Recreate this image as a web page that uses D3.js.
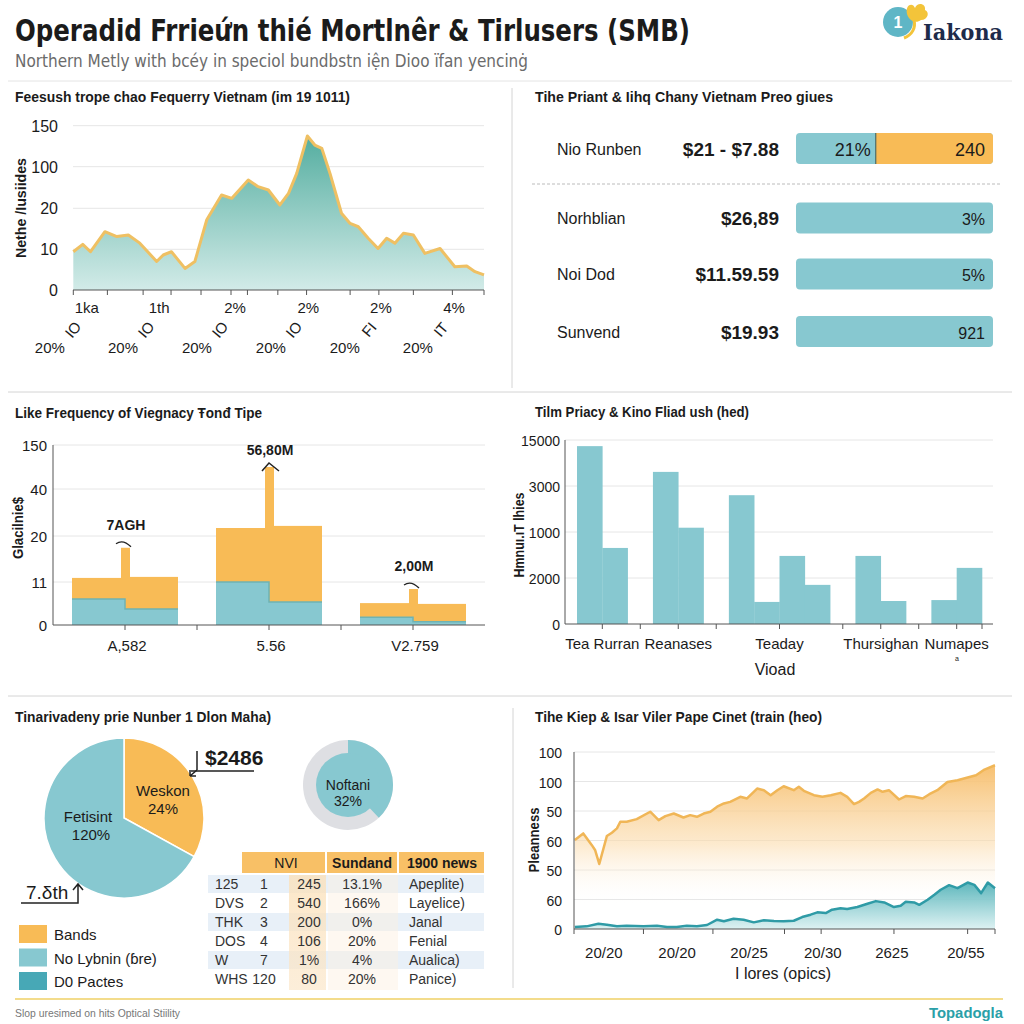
<!DOCTYPE html>
<html><head><meta charset="utf-8">
<script src="https://cdn.jsdelivr.net/npm/d3@7"></script>
<style>
body{margin:0;background:#fff}
svg{display:block}
text{font-family:"Liberation Sans","DejaVu Sans",Arial,sans-serif;fill:#1b1b1b}
</style></head>
<body><svg id="c" width="1024" height="1024"></svg>
<script>
// ---------- DATA ----------
const titleText = "Operadid Frrieứn thié Mortlnêr & Tirlusers (SMB)";
const subtitleText = "Northern Metly with bcéy in speciol bundbstn iện Dioo ïfan yencinġ";
const footerText = "Slop uresimed on hits Optical Stiility";

// Panel 1: area chart
const p1Title = "Feesush trope chao Fequerry Vietnam (im 19 1011)";
const p1YTitle = "Nethe /Iusiides";
const p1YTicks = [0, 10, 20, 100, 150];
const p1T = [0,2.3,4.2,7.7,10.6,13.4,16.2,20.3,21.9,23.9,27.2,29.6,32.5,36.1,38.6,42.6,45.0,47.5,50.3,52.4,54.4,57.0,58.8,60.5,62.5,65.3,67.4,69.4,71.8,74.2,76.3,78.3,80.4,82.8,85.6,89.3,92.9,95.8,97.8,100];
const p1V = [9.4,11.2,9.4,14.3,13.1,13.5,11.5,7.0,8.6,9.4,5.3,7.0,17.2,45.6,39.2,74.4,61.6,55.2,26.4,48.8,87.2,137.4,126.4,122.4,87.2,18.8,16.3,15.5,12.7,10.2,12.7,11.5,13.9,13.5,9.0,10.2,5.7,5.9,4.5,3.7];
const p1TickT = [0,8.3,17.0,23.8,31.1,38.4,42.4,49.8,56.8,67.4,74.4,82.8,92.3,100];
const p1Row1 = ["1ka","1th","2%","2%","2%","4%"];
const p1Row1T = [3.3,20.9,39.4,57.2,74.9,92.7];
const p1Row2 = ["IO","IO","IO","IO","FI","IT"];
const p1Row2T = [0.9,18.7,36.7,54.7,73.0,90.5];
const p1Row3 = ["20%","20%","20%","20%","20%","20%"];
const p1Row3T = [-5.7,12.1,30.1,48.1,66.1,83.9];

// Panel 2: price rows
const p2Title = "Tihe Priant & Iihq Chany Vietnam Preo giues";
const p2Names = ["Nio Runben","Norhblian","Noi Dod","Sunvend"];
const p2Prices = ["$21 - $7.88","$26,89","$11.59.59","$19.93"];
const p2Blue = [40.5,100,100,100];
const p2Orange = [59.5,0,0,0];
const p2BlueLbl = ["21%","","",""];
const p2EndLbl = ["240","3%","5%","921"];

// Panel 3: stepped stacked bars
const p3Title = "Like Frequency of Viegnacy Ŧonđ Tipe";
const p3YTitle = "Glacilnie$";
const p3Groups = ["A,582","5.56","V2.759"];
const p3YTicks = [0, 11, 20, 40, 150];
const p3TealL = [6.65, 11, 2.0];
const p3TealR = [4.1, 5.9, 0.8];
const p3TotL = [11.8, 23.4, 5.6];
const p3TotR = [12.0, 24.3, 5.4];
const p3Spike = [17.7, 95, 9.2];
const p3SpikeLbl = ["7AGH","56,80M","2,00M"];

// Panel 4: grouped bars
const p4Title = "Tilm Priacy & Kino Fliad ush (hed)";
const p4YTitle = "Hmnuı.ıT lhies";
const p4XTitle = "Vioad";
const p4Cats = ["Tea Rurran","Reanases","Teaday","Thursighan","Numapes"];
const p4Vals = [[14500,6200],[12400,7850],[10500,1800,5550,3190],[5550,1875],[1950,4575]];
const p4TickVals = [0,3750,7500,11250,15000];
const p4TickLbl = ["0","2000","1000","3000","15000"];

// Panel 5: pie, donut, table
const p5Title = "Tinarivadeny prie Nunber 1 Dlon Maha)";
const pieLabels = ["Weskon","Fetisint"];
const piePct = ["24%","120%"];
const pieVals = [33, 67];
const donutVals = [38, 62];
const donutLbl = ["Noftani","32%"];
const legendNames = ["Bands","No Lybnin (ɓre)","D0 Pactes"];
const tableHead = ["NVI","Sundand","1900 news"];
const tableRows = [
  ["125","1","245","13.1%","Apeplite)"],
  ["DVS","2","540","166%","Layelice)"],
  ["THK","3","200","0%","Janal"],
  ["DOS","4","106","20%","Fenial"],
  ["W","7","1%","4%","Aualica)"],
  ["WHS","120","80","20%","Panice)"]
];

// Panel 6: two areas
const p6Title = "Tihe Kiep & Isar Viler Pape Cinet (train (heo)";
const p6YTitle = "Pleanness";
const p6XTitle = "I lores (opics)";
const p6TickVals = [0,20,40,60,80,100,120];
const p6TickLbl = ["0","60","50","60","50","100","100"];
const p6XLbl = ["20/20","20/20","20/25","20/30","2625","20/55"];
const p6XLblT = [7.1,24.5,41.6,59.1,75.5,93.1];
const p6OT = [0.2,2.2,4.2,5.0,6.0,7.8,9.0,10.2,11.0,12.5,14.9,18.1,20.1,21.7,23.7,26.0,27.6,29.2,30.8,32.4,34.0,35.6,37.1,39.5,41.1,43.5,45.1,46.7,48.3,49.8,52.2,53.4,54.6,57.0,59.0,61.0,63.3,64.9,66.5,67.7,68.9,70.5,72.1,73.3,74.8,77.2,78.8,80.8,82.8,84.4,86.3,88.7,91.1,93.5,95.5,97.5,100];
const p6OV = [60.3,64.8,57.0,53.6,44.1,63.0,65.3,68.2,72.7,72.7,74.5,79.5,73.8,76.5,78.3,75.6,77.2,76.1,78.3,79.5,82.9,85.1,86.2,89.6,88.5,95.2,94.1,90.7,94.1,96.8,94.1,96.4,93.7,90.7,89.6,90.7,92.3,89.6,84.7,86.2,88.5,92.3,94.6,93.0,94.1,87.8,90.1,89.6,88.5,91.4,94.1,99.7,100.9,102.7,104.2,108.1,111.0];
const p6TT = [0.2,3.0,5.8,7.8,10.2,12.5,16.5,19.7,22.1,24.4,26.8,29.2,31.6,34.0,35.6,37.9,40.3,42.7,45.1,47.5,49.8,52.2,54.2,56.2,57.8,59.8,61.3,63.3,64.9,67.3,69.7,71.7,73.7,76.0,77.6,78.8,80.8,82.0,84.0,85.6,87.1,89.1,91.1,93.5,95.1,96.7,98.3,100];
const p6TV = [1.35,1.8,3.6,2.9,1.8,2.25,1.8,2.25,1.35,1.35,2.25,1.8,2.7,6.3,5.2,7.0,6.3,4.5,5.9,5.4,5.2,5.6,8.1,9.7,11.3,10.8,13.1,14.0,13.5,14.9,17.1,18.9,18.0,14.9,15.8,18.5,18.0,16.4,19.8,23.2,26.6,29.7,27.7,31.5,29.9,24.3,31.5,27.7];

// ---------- STYLE ----------
const C = {teal:"#87c8d0", orange:"#f8bb56", dark:"#1b1b1b", grid:"#e6e6e6", axis:"#555", divider:"#d4d4d4", dteal:"#47a8b6"};
const svg = d3.select("#c");
svg.append("rect").attr("width",1024).attr("height",1024).attr("fill","#fff");
const defs = svg.append("defs");
function grad(id, y1, y2, stops){
  const g = defs.append("linearGradient").attr("id",id).attr("gradientUnits","userSpaceOnUse")
    .attr("x1",0).attr("x2",0).attr("y1",y1).attr("y2",y2);
  stops.forEach(s=>g.append("stop").attr("offset",s[0]).attr("stop-color",s[1]).attr("stop-opacity",s[2]));
}
function txt(g, x, y, s, o={}){
  const t = g.append("text").attr("x",x).attr("y",y).text(s)
    .attr("font-size",o.size||14).attr("font-weight",o.bold?"bold":"normal")
    .attr("text-anchor",o.anchor||"start");
  if(o.fill) t.style("fill",o.fill);
  if(o.family) t.style("font-family",o.family);
  if(o.len){ t.attr("textLength",o.len).attr("lengthAdjust","spacingAndGlyphs"); }
  if(o.rot!==undefined) t.attr("transform",`rotate(${o.rot},${x},${y})`);
  return t;
}

// ---------- HEADER ----------
txt(svg,15,41,titleText,{size:31,bold:true,len:675,family:"'DejaVu Sans Condensed','DejaVu Sans',sans-serif"});
txt(svg,15,67,subtitleText,{size:18,fill:"#6b6b6b",len:513,family:"'DejaVu Sans Condensed','DejaVu Sans',sans-serif"});
// logo
const logo = svg.append("g");
logo.append("circle").attr("cx",898).attr("cy",22).attr("r",15).attr("fill","#5fb6c6");
logo.append("path").attr("d","M907,14 C905,4 913,2 915,8 C917,2 926,3 925,10 C930,12 928,20 921,20 C916,24 909,21 907,14 Z").attr("fill","#f3c43a");
logo.append("path").attr("d","M914,20 C916,28 912,35 904,38").attr("fill","none").attr("stroke","#f3c43a").attr("stroke-width",3);
txt(logo,898,28,"1",{size:16,bold:true,anchor:"middle",fill:"#fff"});
txt(logo,923,40,"Iakona",{size:22,bold:true,fill:"#1e2b4a",len:80,family:"'DejaVu Serif',serif"});

// dividers
svg.append("line").attr("x1",8).attr("x2",1012).attr("y1",81).attr("y2",81).attr("stroke","#e4e4e4");
svg.append("line").attr("x1",8).attr("x2",1012).attr("y1",392).attr("y2",392).attr("stroke",C.divider);
svg.append("line").attr("x1",8).attr("x2",1012).attr("y1",696).attr("y2",696).attr("stroke",C.divider);
svg.append("line").attr("x1",512).attr("x2",512).attr("y1",88).attr("y2",388).attr("stroke",C.divider);
svg.append("line").attr("x1",513).attr("x2",513).attr("y1",708).attr("y2",988).attr("stroke",C.divider);
svg.append("line").attr("x1",15).attr("x2",1003).attr("y1",999).attr("y2",999).attr("stroke","#f3dc8c").attr("stroke-width",2);
txt(svg,15,1017,footerText,{size:11,fill:"#777",len:165});
txt(svg,1003,1018,"Topadogla",{size:15,bold:true,anchor:"end",fill:"#2aa0a8",len:74});

// ---------- PANEL 1 ----------
{
  const g = svg.append("g");
  txt(g,15,102,p1Title,{size:15,bold:true,len:335});
  const x = d3.scaleLinear().domain([0,100]).range([73.3,484]);
  const y = d3.scaleLinear().domain(p1YTicks).range([290,249.3,208.3,166.7,125.7]);
  p1YTicks.forEach(v=>{
    if(v>0) g.append("line").attr("x1",73).attr("x2",484).attr("y1",y(v)).attr("y2",y(v)).attr("stroke",C.grid);
    txt(g,58,y(v)+6,String(v),{size:16,anchor:"end"});
  });
  grad("g1",130,292,[[0,"#4fab9d",1],[1,"#d4ece9",1]]);
  const area = d3.area().x((d,i)=>x(p1T[i])).y0(y(0)).y1(d=>y(d));
  const line = d3.line().x((d,i)=>x(p1T[i])).y(d=>y(d));
  g.append("path").attr("d",area(p1V)).attr("fill","url(#g1)");
  g.append("path").attr("d",line(p1V)).attr("fill","none").attr("stroke","#efc063").attr("stroke-width",3).attr("stroke-linejoin","round");
  g.append("line").attr("x1",73).attr("x2",484).attr("y1",290).attr("y2",290).attr("stroke",C.axis);
  p1TickT.forEach(t=>g.append("line").attr("x1",x(t)).attr("x2",x(t)).attr("y1",290).attr("y2",295).attr("stroke",C.axis));
  p1Row1.forEach((s,i)=>txt(g,x(p1Row1T[i]),313,s,{size:15,anchor:"middle"}));
  p1Row2.forEach((s,i)=>txt(g,x(p1Row2T[i]),333,s,{size:15,anchor:"middle",rot:-50}));
  p1Row3.forEach((s,i)=>txt(g,x(p1Row3T[i]),353,s,{size:15,anchor:"middle"}));
  txt(g,26,208,p1YTitle,{size:15,bold:true,anchor:"middle",rot:-90,len:100});
}

// ---------- PANEL 2 ----------
{
  const g = svg.append("g");
  txt(g,535,102,p2Title,{size:15,bold:true,len:298});
  const ys = [148.5,218,274,331.5];
  const bx = d3.scaleLinear().domain([0,100]).range([796,993]);
  p2Names.forEach((n,i)=>{
    const cy = ys[i];
    txt(g,557,cy+6,n,{size:16});
    txt(g,779,cy+7,p2Prices[i],{size:19,bold:true,anchor:"end"});
    const h = 31;
    g.append("rect").attr("x",bx(0)).attr("y",cy-h/2).attr("width",bx(100)-bx(0)).attr("height",h).attr("rx",4).attr("fill",C.teal);
    if(p2Orange[i]>0){
      g.append("path").attr("d",`M${bx(p2Blue[i])},${cy-h/2} H${bx(100)-4} a4,4 0 0 1 4,4 V${cy+h/2-4} a4,4 0 0 1 -4,4 H${bx(p2Blue[i])} Z`).attr("fill",C.orange);
      g.append("line").attr("x1",bx(p2Blue[i])).attr("x2",bx(p2Blue[i])).attr("y1",cy-h/2).attr("y2",cy+h/2).attr("stroke","#3a5a5a").attr("stroke-width",1);
    }
    if(p2BlueLbl[i]) txt(g,bx(p2Blue[i])-5,cy+7,p2BlueLbl[i],{size:18,anchor:"end"});
    txt(g,985,cy+7,p2EndLbl[i],{size:p2Orange[i]>0?18:16,anchor:"end"});
  });
  g.append("line").attr("x1",532).attr("x2",1001).attr("y1",184).attr("y2",184).attr("stroke","#bbb").attr("stroke-dasharray","3,2");
}

// ---------- PANEL 3 ----------
{
  const g = svg.append("g");
  txt(g,15,418,p3Title,{size:15,bold:true,len:247});
  const y = d3.scaleLinear().domain(p3YTicks).range([625,582,536,489,445]);
  p3YTicks.forEach(v=>{
    if(v>0) g.append("line").attr("x1",53).attr("x2",485).attr("y1",y(v)).attr("y2",y(v)).attr("stroke",C.grid);
    txt(g,47,y(v)+6,String(v),{size:15,anchor:"end"});
  });
  const x = d3.scaleBand().domain(p3Groups).range([53,485]).paddingInner(0.264).paddingOuter(0.132);
  p3Groups.forEach((gname,i)=>{
    const x0 = x(gname), bw = x.bandwidth(), xm = x0+bw/2, x1 = x0+bw;
    g.append("rect").attr("x",x0).attr("y",y(p3TotL[i])).attr("width",xm-x0).attr("height",y(0)-y(p3TotL[i])).attr("fill",C.orange);
    g.append("rect").attr("x",xm).attr("y",y(p3TotR[i])).attr("width",x1-xm).attr("height",y(0)-y(p3TotR[i])).attr("fill",C.orange);
    g.append("rect").attr("x",xm-4).attr("y",y(p3Spike[i])).attr("width",9).attr("height",y(0)-y(p3Spike[i])).attr("fill",C.orange);
    g.append("rect").attr("x",x0).attr("y",y(p3TealL[i])).attr("width",xm-x0).attr("height",y(0)-y(p3TealL[i])).attr("fill",C.teal);
    g.append("rect").attr("x",xm).attr("y",y(p3TealR[i])).attr("width",x1-xm).attr("height",y(0)-y(p3TealR[i])).attr("fill",C.teal);
    g.append("path").attr("d",`M${x0},${y(p3TealL[i])} H${xm} V${y(p3TealR[i])} H${x1}`).attr("fill","none").attr("stroke","#6fb3b3").attr("stroke-width",1.5);
    const ly = y(p3Spike[i]);
    txt(g,xm+1,ly-(i===1?12:18),p3SpikeLbl[i],{size:14,bold:true,anchor:"middle"});
    if(i===1) g.append("path").attr("d",`M${xm-7},${ly+4} L${xm},${ly-4} L${xm+10},${ly+4}`).attr("fill","none").attr("stroke","#222").attr("stroke-width",1.5);
    else g.append("path").attr("d",`M${xm-9},${ly-4} Q${xm-2},${ly-9} ${xm+6},${ly-1}`).attr("fill","none").attr("stroke","#222").attr("stroke-width",1.3);
    txt(g,xm+2,651,gname,{size:15,anchor:"middle"});
  });
  g.append("line").attr("x1",53).attr("x2",53).attr("y1",445).attr("y2",625).attr("stroke",C.axis);
  g.append("line").attr("x1",53).attr("x2",485).attr("y1",625).attr("y2",625).attr("stroke",C.axis);
  const tickPos = [];
  p3Groups.forEach((gname,i)=>{ tickPos.push(x(gname)+x.bandwidth()/2); if(i<2) tickPos.push(x(gname)+x.bandwidth()+ (x.step()-x.bandwidth())/2); });
  tickPos.forEach(p=>g.append("line").attr("x1",p).attr("x2",p).attr("y1",625).attr("y2",630).attr("stroke",C.axis));
  txt(g,23,528,p3YTitle,{size:15,bold:true,anchor:"middle",rot:-90,len:62});
}

// ---------- PANEL 4 ----------
{
  const g = svg.append("g");
  txt(g,535,417,p4Title,{size:15,bold:true,len:214});
  const y = d3.scaleLinear().domain([0,15000]).range([624,440]);
  p4TickVals.forEach((v,i)=>{
    if(v>0) g.append("line").attr("x1",565).attr("x2",993).attr("y1",y(v)).attr("y2",y(v)).attr("stroke",C.grid);
    txt(g,560,y(v)+6,p4TickLbl[i],{size:14,anchor:"end"});
  });
  const bars = []; const centers = []; const gaps = [];
  let s = 0;
  p4Vals.forEach((vals,gi)=>{
    const start = s;
    vals.forEach(v=>{ bars.push({slot:s, v}); s++; });
    centers.push((start+s)/2);
    if(gi<p4Vals.length-1){ gaps.push(s+0.5); s++; }
  });
  const x = d3.scaleLinear().domain([0,s]).range([577,982]);
  bars.forEach(b=>g.append("rect").attr("x",x(b.slot)).attr("y",y(b.v)).attr("width",x(b.slot+1)-x(b.slot)+0.3).attr("height",y(0)-y(b.v)).attr("fill",C.teal));
  g.append("line").attr("x1",565).attr("x2",565).attr("y1",440).attr("y2",624).attr("stroke",C.axis);
  g.append("line").attr("x1",565).attr("x2",993).attr("y1",624).attr("y2",624).attr("stroke",C.axis);
  centers.concat(gaps).concat([s]).forEach(c=>g.append("line").attr("x1",x(c)).attr("x2",x(c)).attr("y1",624).attr("y2",629).attr("stroke",C.axis));
  p4Cats.forEach((c,i)=>txt(g,x(centers[i]),649,c,{size:15,anchor:"middle"}));
  txt(g,775,675,p4XTitle,{size:16,anchor:"middle"});
  txt(g,957,661,"a",{size:7,anchor:"middle"});
  txt(g,524,535,p4YTitle,{size:15,bold:true,anchor:"middle",rot:-90,len:85});
}

// ---------- PANEL 5 ----------
{
  const g = svg.append("g");
  txt(g,15,722,p5Title,{size:15,bold:true,len:256});
  const pieG = g.append("g").attr("transform","translate(124,818)");
  const pie = d3.pie().sort(null)(pieVals);
  const arc = d3.arc().innerRadius(0).outerRadius(80);
  pieG.selectAll("path").data(pie).join("path").attr("d",arc)
    .attr("fill",(d,i)=>i===0?C.orange:C.teal).attr("stroke","#fff").attr("stroke-width",1.5);
  txt(g,163,796,pieLabels[0],{size:15,anchor:"middle"});
  txt(g,163,814,piePct[0],{size:15,anchor:"middle"});
  txt(g,88,822,pieLabels[1],{size:15,anchor:"middle"});
  txt(g,91,840,piePct[1],{size:15,anchor:"middle"});
  txt(g,205,765,"$2486",{size:21,bold:true});
  g.append("path").attr("d","M197,751 V770 M191,771 H254").attr("stroke","#222").attr("fill","none").attr("stroke-width",1.5);
  g.append("path").attr("d","M197,770 L190,776 M190,776 L190,770 M190,776 L196,776").attr("stroke","#222").attr("fill","none").attr("stroke-width",1.5);
  txt(g,26,899,"7.δth",{size:19});
  g.append("path").attr("d","M21,903 H78 V884 M73,890 L78,884 L83,890").attr("stroke","#222").attr("fill","none").attr("stroke-width",1.5);
  const dG = g.append("g").attr("transform","translate(348,785)");
  dG.append("circle").attr("r",45).attr("fill","#dedfe3");
  const dp = d3.pie().sort(null)(donutVals);
  dG.append("path").attr("d",d3.arc().innerRadius(0).outerRadius(45)(dp[0])).attr("fill",C.teal);
  dG.append("circle").attr("r",32).attr("fill",C.teal);
  txt(g,348,790,donutLbl[0],{size:14,anchor:"middle"});
  txt(g,348,806,donutLbl[1],{size:14,anchor:"middle"});
  const lc = [C.orange, C.teal, C.dteal];
  legendNames.forEach((n,i)=>{
    g.append("rect").attr("x",19).attr("y",925+i*23.5).attr("width",28).attr("height",18).attr("fill",lc[i]);
    txt(g,54,940+i*23.5,n,{size:15});
  });
  const tg = g.append("g");
  tg.append("rect").attr("x",242).attr("y",852).attr("width",242).attr("height",21).attr("fill","#f8c066");
  [326,398].forEach(xx=>tg.append("line").attr("x1",xx).attr("x2",xx).attr("y1",852).attr("y2",873).attr("stroke","#fff").attr("stroke-width",2));
  txt(tg,286,868,tableHead[0],{size:14,anchor:"middle"});
  txt(tg,362,868,tableHead[1],{size:14,bold:true,anchor:"middle"});
  txt(tg,442,868,tableHead[2],{size:14,bold:true,anchor:"middle"});
  tableRows.forEach((r,i)=>{
    const ry = 875+i*19;
    if(i%2===0) tg.append("rect").attr("x",208).attr("y",ry).attr("width",276).attr("height",18).attr("fill","#e8f0f8");
  });
  grad("gcol",875,990,[[0,"#fbe0b8",0.9],[1,"#fbe6c8",0.8]]);
  tg.append("rect").attr("x",289).attr("y",875).attr("width",37).attr("height",115).attr("fill","url(#gcol)").attr("opacity",0.85);
  tg.append("rect").attr("x",328).attr("y",875).attr("width",70).attr("height",115).attr("fill","#fdf0e0").attr("opacity",0.45);
  tableRows.forEach((r,i)=>{
    const by = 889+i*19;
    txt(tg,215,by,r[0],{size:14,fill:"#333"});
    txt(tg,264,by,r[1],{size:14,anchor:"middle",fill:"#333"});
    txt(tg,309,by,r[2],{size:14,anchor:"middle",fill:"#333"});
    txt(tg,362,by,r[3],{size:14,anchor:"middle",fill:"#333"});
    txt(tg,409,by,r[4],{size:14,fill:"#333"});
  });
}

// ---------- PANEL 6 ----------
{
  const g = svg.append("g");
  txt(g,535,722,p6Title,{size:15,bold:true,len:287});
  const y = d3.scaleLinear().domain([0,120]).range([929,752]);
  const x = d3.scaleLinear().domain([0,100]).range([574,995]);
  p6TickVals.forEach((v,i)=>{
    if(v>0) g.append("line").attr("x1",574).attr("x2",995).attr("y1",y(v)).attr("y2",y(v)).attr("stroke",C.grid);
    txt(g,562,y(v)+6,p6TickLbl[i],{size:14,anchor:"end"});
  });
  grad("go",770,905,[[0,"#f7c070",0.95],[0.55,"#fbdcae",0.6],[1,"#ffffff",0]]);
  grad("gt",880,929,[[0,"#4eb0b6",0.95],[1,"#d9f0f1",0.9]]);
  const aO = d3.area().x((d,i)=>x(p6OT[i])).y0(y(0)).y1(d=>y(d));
  const lO = d3.line().x((d,i)=>x(p6OT[i])).y(d=>y(d));
  g.append("path").attr("d",aO(p6OV)).attr("fill","url(#go)");
  g.append("path").attr("d",lO(p6OV)).attr("fill","none").attr("stroke","#f0b657").attr("stroke-width",2.5).attr("stroke-linejoin","round");
  const aT = d3.area().x((d,i)=>x(p6TT[i])).y0(y(0)).y1(d=>y(d));
  const lT = d3.line().x((d,i)=>x(p6TT[i])).y(d=>y(d));
  g.append("path").attr("d",aT(p6TV)).attr("fill","url(#gt)");
  g.append("path").attr("d",lT(p6TV)).attr("fill","none").attr("stroke","#2f9ba6").attr("stroke-width",2.5).attr("stroke-linejoin","round");
  g.append("line").attr("x1",574).attr("x2",574).attr("y1",752).attr("y2",929).attr("stroke",C.axis);
  g.append("line").attr("x1",574).attr("x2",995).attr("y1",929).attr("y2",929).attr("stroke",C.axis);
  [0,16.5,33,50,58.7,76,93.5,100].forEach(t=>g.append("line").attr("x1",x(t)).attr("x2",x(t)).attr("y1",929).attr("y2",934).attr("stroke",C.axis));
  p6XLbl.forEach((s,i)=>txt(g,x(p6XLblT[i]),958,s,{size:15,anchor:"middle"}));
  txt(g,783,979,p6XTitle,{size:16,anchor:"middle"});
  txt(g,539,840,p6YTitle,{size:15,bold:true,anchor:"middle",rot:-90,len:65});
}
</script>
</body></html>
